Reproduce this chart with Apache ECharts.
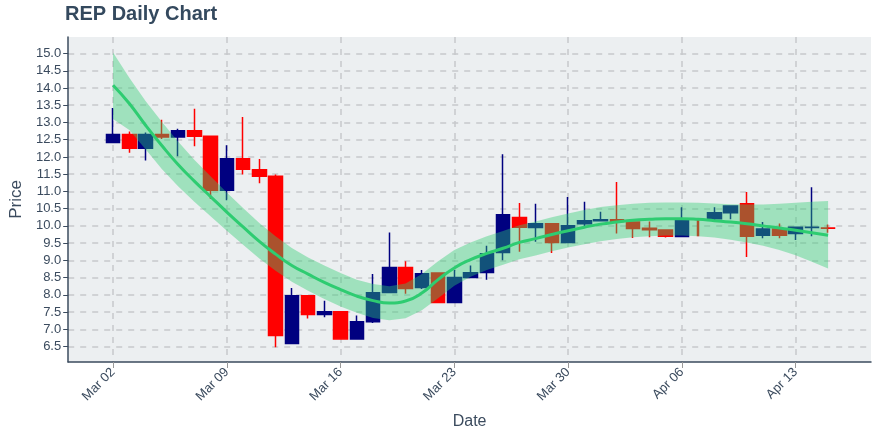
<!DOCTYPE html>
<html><head><meta charset="utf-8">
<script src="https://cdn.jsdelivr.net/npm/echarts@6/dist/echarts.min.js"></script>
<style>html,body{margin:0;padding:0;background:#fff}#c{width:880px;height:440px}</style>
</head><body><div id="c"></div>
<script>
// Daily candles, Mar 02 .. Apr 15 (day index = position)
const dates = ['Mar 02','Mar 03','Mar 04','Mar 05','Mar 06','Mar 07','Mar 08','Mar 09','Mar 10','Mar 11','Mar 12','Mar 13','Mar 14','Mar 15','Mar 16','Mar 17','Mar 18','Mar 19','Mar 20','Mar 21','Mar 22','Mar 23','Mar 24','Mar 25','Mar 26','Mar 27','Mar 28','Mar 29','Mar 30','Mar 31','Apr 01','Apr 02','Apr 03','Apr 04','Apr 05','Apr 06','Apr 07','Apr 08','Apr 09','Apr 10','Apr 11','Apr 12','Apr 13','Apr 14','Apr 15'];
const opens  = [12.42,12.65,12.25,12.65,12.58,12.76,12.60,11.03,11.95,11.63,11.44,6.59,7.97,7.43,7.51,6.72,7.22,8.07,8.79,8.21,8.63,7.78,8.50,8.65,9.23,10.24,9.95,10.06,9.52,10.06,10.15,10.18,10.11,9.93,9.88,9.69,10.16,10.21,10.38,10.64,9.73,9.91,9.78,9.95,9.94];
const closes = [12.65,12.25,12.65,12.58,12.76,12.60,11.03,11.95,11.64,11.44,6.82,7.97,7.43,7.51,6.72,7.22,8.06,8.79,8.18,8.61,7.78,8.50,8.64,9.19,10.32,9.96,10.06,9.52,10.00,10.15,10.18,10.13,9.92,9.89,9.70,10.17,9.72,10.38,10.58,9.70,9.91,9.73,9.96,9.96,9.93];
const lows   = [12.40,12.12,11.90,12.52,12.02,12.31,10.78,10.74,11.49,11.24,6.48,6.59,7.31,7.35,6.72,6.72,7.18,8.07,8.03,8.17,7.78,7.78,8.50,8.44,9.00,9.25,9.54,9.21,9.52,9.94,10.13,9.78,9.65,9.67,9.66,9.69,9.72,10.17,10.19,9.10,9.64,9.64,9.59,9.70,9.80];
const highs  = [13.42,12.74,12.71,13.08,12.82,13.40,12.60,12.34,13.16,11.94,11.49,8.20,7.97,7.83,7.51,7.40,8.60,9.81,8.97,8.72,8.65,8.72,8.85,9.42,12.08,10.66,10.64,10.06,10.84,10.70,10.41,11.27,10.11,10.13,9.88,10.54,10.16,10.54,10.58,10.98,10.11,10.07,9.96,11.12,10.04];
const thinDays = [36];
// Smoothed trend and its band
const trend = [14.08,13.55,12.92,12.33,11.78,11.30,10.85,10.40,9.97,9.55,9.18,8.85,8.60,8.36,8.15,7.96,7.83,7.76,7.82,8.05,8.44,8.78,9.02,9.20,9.35,9.52,9.63,9.75,9.86,9.96,10.05,10.11,10.16,10.19,10.21,10.21,10.19,10.15,10.11,10.06,10.00,9.94,9.87,9.80,9.73];
const bandUpper = [15.03,14.30,13.62,13.02,12.45,11.92,11.44,10.97,10.52,10.08,9.70,9.36,9.08,8.85,8.63,8.44,8.31,8.25,8.33,8.60,8.97,9.30,9.52,9.70,9.85,10.02,10.13,10.25,10.36,10.46,10.55,10.60,10.64,10.67,10.68,10.68,10.67,10.65,10.63,10.62,10.62,10.64,10.67,10.70,10.72];
const bandLower = [13.10,12.78,12.22,11.65,11.15,10.70,10.28,9.86,9.45,9.05,8.70,8.38,8.12,7.88,7.66,7.48,7.33,7.26,7.32,7.55,7.90,8.26,8.52,8.72,8.87,9.03,9.14,9.26,9.37,9.47,9.55,9.62,9.67,9.70,9.72,9.72,9.70,9.66,9.60,9.52,9.42,9.30,9.15,8.96,8.76];
// Axis ticks
const xTickDays = [0,7,14,21,28,35,42];
const xTickLabels = ['Mar 02','Mar 09','Mar 16','Mar 23','Mar 30','Apr 06','Apr 13'];
const yTicks = [6.5,7.0,7.5,8.0,8.5,9.0,9.5,10.0,10.5,11.0,11.5,12.0,12.5,13.0,13.5,14.0,14.5,15.0];

const candleMain = [], candleThin = [];
dates.forEach((d,i)=>{
  const item = [i, opens[i], closes[i], lows[i], highs[i]];
  (thinDays.indexOf(i) >= 0 ? candleThin : candleMain).push(item);
});

const txt = '#3b4b5e';
const font = 'Liberation Sans, Arial, sans-serif';
const chart = echarts.init(document.getElementById('c'), null, {renderer:'canvas'});
const candleStyle = {color:'#000080', color0:'#ff0000', borderColor:'#000080', borderColor0:'#ff0000', borderWidth:1.5};
chart.setOption({
  animation:false,
  backgroundColor:'#ffffff',
  title:{text:'REP Daily Chart', left:65, top:4, padding:0,
    textStyle:{fontSize:20, fontWeight:'bold', color:'#34495e', fontFamily:font}},
  grid:{left:64, right:9, top:37, bottom:78, show:true, backgroundColor:'#eceff1', borderWidth:0},
  xAxis:{type:'value', min:-2.76, max:46.64,
    name:'Date', nameLocation:'middle', nameGap:52,
    nameTextStyle:{fontSize:16, color:txt, fontFamily:font},
    axisLine:{show:true, onZero:false, lineStyle:{color:'#3b4b5e', width:1.5}},
    axisTick:{show:true, length:6, customValues:xTickDays, lineStyle:{color:'#999'}},
    axisLabel:{customValues:xTickDays, rotate:45, fontSize:13, color:txt, fontFamily:font, margin:8,
      formatter:v=>xTickLabels[xTickDays.indexOf(Math.round(v))] || ''},
    splitLine:{show:true, lineStyle:{color:'#c6c9cc', width:1.5, type:[6,6]}}},
  yAxis:{type:'value', min:6.05, max:15.48,
    name:'Price', nameLocation:'middle', nameGap:42, nameRotate:90,
    nameTextStyle:{fontSize:17, color:txt, fontFamily:font},
    axisLine:{show:true, onZero:false, lineStyle:{color:'#3b4b5e', width:1.5}},
    axisTick:{show:true, length:5, customValues:yTicks, lineStyle:{color:'#3b4b5e'}},
    axisLabel:{customValues:yTicks, fontSize:13, color:txt, fontFamily:font, margin:7,
      formatter:v=>v.toFixed(1)},
    splitLine:{show:true, lineStyle:{color:'#c6c9cc', width:1.5, type:[6,6]}}},
  series:[
    {type:'candlestick', name:'REP', data:candleMain, encode:{x:0, y:[1,2,3,4]},
      barWidth:14, itemStyle:candleStyle, z:2},
    {type:'candlestick', name:'REP thin', data:candleThin, encode:{x:0, y:[1,2,3,4]},
      barWidth:2, itemStyle:candleStyle, z:2},
    {type:'custom', name:'band', z:5, silent:true, clip:true,
      data:[[0, bandUpper[0]]], encode:{x:0, y:1},
      renderItem:(params, api)=>{
        const up = bandUpper.map((v,i)=>api.coord([i,v]));
        const lo = bandLower.map((v,i)=>api.coord([i,v])).reverse();
        return {type:'polygon', shape:{points:up.concat(lo)},
          style:{fill:'rgba(46,204,113,0.4)'}};
      }},
    {type:'line', name:'trend', data:trend.map((v,i)=>[i,v]), smooth:true, showSymbol:false, z:6,
      lineStyle:{color:'#2ecc71', width:3}}
  ]
});
</script></body></html>
